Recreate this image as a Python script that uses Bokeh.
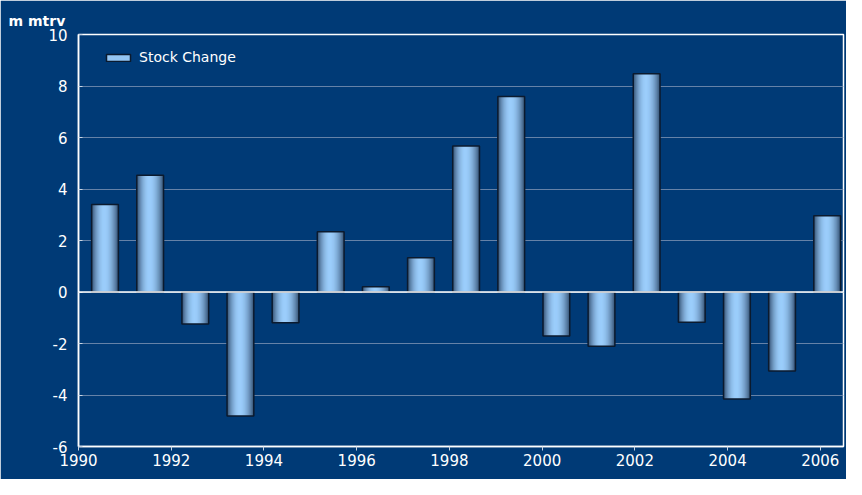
import math
from bokeh.plotting import figure
from bokeh.models import ColumnDataSource, Span, Legend, LegendItem, Title, FixedTicker
from bokeh.embed import file_html
from bokeh.resources import INLINE

# ---- data ----
years = [1990, 1991, 1992, 1993, 1994, 1995, 1996, 1997, 1998, 1999,
         2000, 2001, 2002, 2003, 2004, 2005, 2006]
stock_change = [3.40, 4.53, -1.24, -4.82, -1.19, 2.34, 0.20, 1.33, 5.67, 7.59,
                -1.71, -2.11, 8.48, -1.17, -4.16, -3.07, 2.96]
series_name = "Stock Change"
y_unit = "m mtrv"
x_ticks = [1990, 1992, 1994, 1996, 1998, 2000, 2002, 2004, 2006]
y_ticks = [-6, -4, -2, 0, 2, 4, 6, 8, 10]

# ---- style ----
BG = "#003a76"
BAR_OFFSET = 0.572
BAR_STEP = 0.9735
BAR_W = 0.578
N_LAYERS = 24
PEAK = 0.47
DARK = (50, 78, 112)
LIGHT = (156, 206, 252)
FONT = "DejaVu Sans"

p = figure(width=846, height=479, output_backend="svg", toolbar_location=None,
           x_range=(1990, 2006.5), y_range=(-6, 10),
           min_border_left=78, min_border_right=3, min_border_top=34, min_border_bottom=33)
p.background_fill_color = BG
p.border_fill_color = BG
p.outline_line_color = "white"
p.outline_line_width = 1.5

bar_x = [1990 + BAR_OFFSET + (y - years[0]) * BAR_STEP for y in years]

# gradient: nested rectangles, outermost (dark) first, innermost (light) last
layer_renderers = []
for k in range(N_LAYERS):
    s = k / N_LAYERS                      # 0 outer -> 1 inner
    left = s * PEAK
    right = 1 - s * (1 - PEAK)
    f = math.sin(s * math.pi / 2) ** 0.8
    col = "#%02x%02x%02x" % tuple(int(DARK[i] + (LIGHT[i] - DARK[i]) * f) for i in range(3))
    cx = (left + right) / 2 - 0.5
    w = (right - left) * BAR_W
    src = ColumnDataSource(dict(x=[bx + cx * BAR_W for bx in bar_x], top=stock_change))
    r = p.vbar(x="x", top="top", bottom=0, width=w, source=src,
               fill_color=col, line_color=None)
    layer_renderers.append(r)

outline = p.vbar(x=bar_x, top=stock_change, bottom=0, width=BAR_W,
                 fill_color=None, line_color="#0b1a2e", line_width=1.5)

p.add_layout(Span(location=0, dimension="width", line_color="white", line_width=1.5))

# axes
p.xaxis.ticker = FixedTicker(ticks=x_ticks)
p.yaxis.ticker = FixedTicker(ticks=y_ticks)
p.yaxis.major_label_overrides = {t: str(t) for t in y_ticks}
for ax in (p.xaxis, p.yaxis):
    ax.axis_line_color = "white"
    ax.axis_line_width = 1.5
    ax.major_tick_line_color = "#c8d4e2"
    ax.minor_tick_line_color = None
    ax.major_label_text_color = "white"
    ax.major_label_text_font = FONT
    ax.major_label_text_font_size = "15px"
p.yaxis.major_tick_in = 4
p.yaxis.major_tick_out = 0
p.yaxis.major_label_standoff = 11
p.xaxis.major_tick_in = 0
p.xaxis.major_tick_out = 4
p.xaxis.major_label_standoff = 3

p.xgrid.grid_line_color = None
p.ygrid.grid_line_color = "#6582a8"
p.ygrid.grid_line_width = 1

# unit label top-left
title = Title(text=y_unit, align="left", offset=-70, text_color="white",
              text_font=FONT, text_font_size="14px", text_font_style="bold", standoff=12)
p.add_layout(title, "above")

# legend
mid = layer_renderers[N_LAYERS * 3 // 4]
legend = Legend(items=[LegendItem(label=series_name, renderers=[mid, outline])],
                location=(25, 381), background_fill_alpha=0, border_line_color=None,
                label_text_color="white", label_text_font=FONT, label_text_font_size="14px",
                glyph_width=30, glyph_height=9, label_height=14, label_standoff=6,
                padding=0, margin=0, spacing=0)
p.add_layout(legend, "center")

open("out.html", "w").write(file_html(p, INLINE))
